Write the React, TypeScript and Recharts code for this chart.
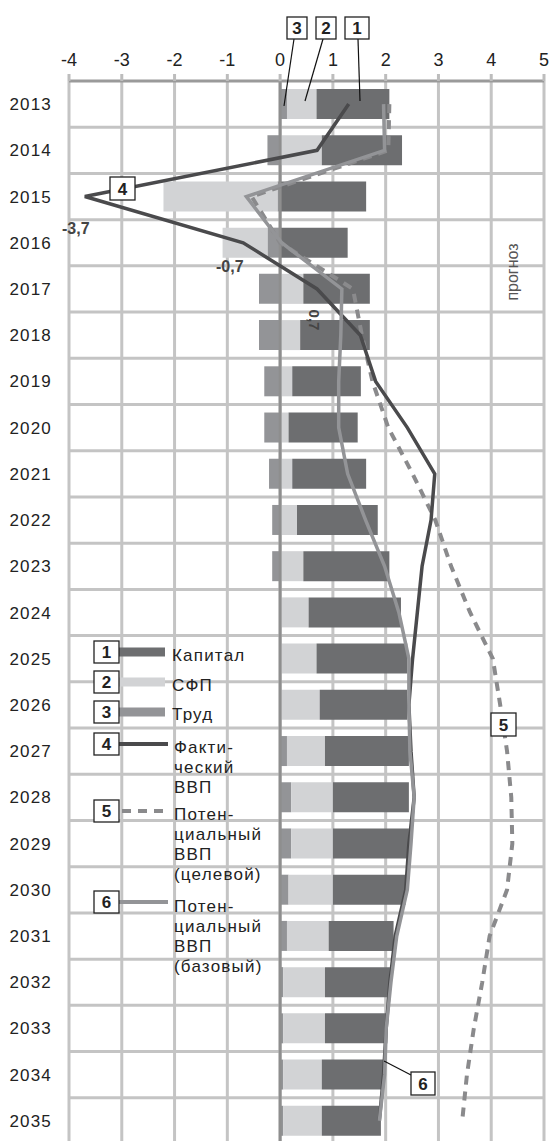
import React from "react";
import {
  ComposedChart,
  Bar,
  Line,
  XAxis,
  YAxis,
  CartesianGrid,
  ReferenceLine,
} from "recharts";

const years = [
  "2013", "2014", "2015", "2016", "2017", "2018", "2019", "2020",
  "2021", "2022", "2023", "2024", "2025", "2026", "2027", "2028",
  "2029", "2030", "2031", "2032", "2033", "2034", "2035",
];

// вклад факторов, п.п.
const labour = [
  0.13, -0.24, -0.05, -0.24, -0.4, -0.4, -0.3, -0.3, -0.21, -0.15, -0.15, 0.02,
  0.02, 0.02, 0.13, 0.21, 0.21, 0.16, 0.13, 0.06, 0.06, 0.06, 0.06,
];
const tfp = [
  0.56, 0.79, -2.16, -0.85, 0.44, 0.38, 0.23, 0.16, 0.23, 0.32, 0.44, 0.52,
  0.67, 0.73, 0.72, 0.79, 0.79, 0.84, 0.79, 0.79, 0.79, 0.73, 0.73,
];
const capital = [
  1.38, 1.52, 1.63, 1.28, 1.26, 1.32, 1.3, 1.31, 1.4, 1.53, 1.63, 1.75,
  1.72, 1.66, 1.59, 1.44, 1.44, 1.38, 1.23, 1.23, 1.18, 1.16, 1.12,
];

// темпы роста ВВП, %
const actualGdp = [
  1.3, 0.7, -3.7, -0.7, 0.7, 1.52, 1.81, 2.41, 2.93, 2.86, 2.69, 2.6,
  2.51, 2.44, 2.48, 2.54, 2.44, 2.38, 2.18, 2.08, 2.01, 1.96, 1.88,
];
const targetGdp = [
  2.07, 2.05, -0.54, 0.0, 1.38, 1.55, 1.75, 2.05, 2.51, 2.94, 3.24, 3.6,
  4.03, 4.17, 4.3, 4.38, 4.4, 4.3, 3.97, 3.83, 3.67, 3.54, 3.45,
];
const baseGdp = [
  1.96, 1.98, -0.64, 0.03, 1.17, 1.15, 1.11, 1.11, 1.28, 1.62, 1.98, 2.25,
  2.44, 2.44, 2.46, 2.54, 2.48, 2.41, 2.21, 2.1, 2.01, 1.98, 1.88,
];

const xTicks = [-4, -3, -2, -1, 0, 1, 2, 3, 4, 5];

const data = years.map((year, i) => ({
  year,
  labour: labour[i],
  tfp: tfp[i],
  capital: capital[i],
  actual: actualGdp[i],
  target: targetGdp[i],
  base: baseGdp[i],
}));

const FONT = "'Liberation Sans', Arial, sans-serif";
const DARK = "#6d6e70";
const LIGHT = "#d2d3d5";
const MID = "#939497";
const LINE_DARK = "#4a4a4c";
const DASH = "#8a8a8c";

function NumBox({ x, y, n, w = 24, h = 23 }: { x: number; y: number; n: string; w?: number; h?: number }) {
  return (
    <g>
      <rect x={x} y={y} width={w} height={h} fill="#fff" stroke="#222" strokeWidth={1.3} />
      <text
        x={x + w / 2}
        y={y + h / 2 + 6}
        textAnchor="middle"
        fontSize={17}
        fontWeight="bold"
        fill="#222"
      >
        {n}
      </text>
    </g>
  );
}

function Annotations() {
  const tx = { fontSize: 17, fill: "#222", letterSpacing: 1.2 };
  return (
    <svg
      width={551}
      height={1141}
      style={{ position: "absolute", left: 0, top: 0, pointerEvents: "none", fontFamily: FONT }}
    >
      {/* leaders to 2013 bar */}
      <line x1={294} y1={39} x2={284} y2={106} stroke="#111" strokeWidth={1.2} />
      <line x1={323} y1={39} x2={305} y2={101} stroke="#111" strokeWidth={1.2} />
      <line x1={358} y1={39} x2={360} y2={101} stroke="#111" strokeWidth={1.2} />
      <NumBox x={287} y={17} n="3" w={20} h={22} />
      <NumBox x={316} y={17} n="2" w={20} h={22} />
      <NumBox x={345} y={17} n="1" w={24} h={22} />

      <NumBox x={110} y={177} n="4" w={25} h={23} />
      <text x={62} y={234} fontSize={16} fontWeight="bold" fill="#444">-3,7</text>
      <text x={216} y={272} fontSize={16} fontWeight="bold" fill="#444">-0,7</text>
      <text
        x={309}
        y={320}
        fontSize={15}
        fontWeight="bold"
        fill="#444"
        textAnchor="middle"
        transform="rotate(90 309 320)"
      >
        0,7
      </text>
      <text
        x={518}
        y={272}
        fontSize={16}
        fill="#555"
        textAnchor="middle"
        transform="rotate(-90 518 272)"
      >
        прогноз
      </text>

      <NumBox x={491} y={713} n="5" w={25} h={23} />
      <line x1={384} y1={1061} x2={411} y2={1075} stroke="#111" strokeWidth={1.2} />
      <NumBox x={411} y={1072} n="6" w={24} h={23} />

      {/* legend */}
      <line x1={119} y1={652} x2={165} y2={652} stroke={DARK} strokeWidth={9} />
      <NumBox x={94} y={641} n="1" w={25} h={22} />
      <text x={172} y={661} {...tx}>Капитал</text>

      <line x1={119} y1={682} x2={165} y2={682} stroke={LIGHT} strokeWidth={9} />
      <NumBox x={94} y={671} n="2" w={25} h={22} />
      <text x={172} y={691} {...tx}>СФП</text>

      <line x1={119} y1={712} x2={165} y2={712} stroke={MID} strokeWidth={9} />
      <NumBox x={94} y={701} n="3" w={25} h={22} />
      <text x={172} y={720} {...tx}>Труд</text>

      <line x1={119} y1={744} x2={168} y2={744} stroke={LINE_DARK} strokeWidth={4} />
      <NumBox x={94} y={733} n="4" w={25} h={22} />
      <text x={174} y={753} {...tx}>Факти-</text>
      <text x={174} y={773} {...tx}>ческий</text>
      <text x={174} y={793} {...tx}>ВВП</text>

      <line x1={122} y1={811} x2={166} y2={811} stroke={DASH} strokeWidth={4} strokeDasharray="9 7" />
      <NumBox x={94} y={800} n="5" w={25} h={22} />
      <text x={174} y={820} {...tx}>Потен-</text>
      <text x={174} y={840} {...tx}>циальный</text>
      <text x={174} y={860} {...tx}>ВВП</text>
      <text x={174} y={880} {...tx}>(целевой)</text>

      <line x1={119} y1={902} x2={168} y2={902} stroke={MID} strokeWidth={4} />
      <NumBox x={94} y={891} n="6" w={25} h={22} />
      <text x={174} y={912} {...tx}>Потен-</text>
      <text x={174} y={932} {...tx}>циальный</text>
      <text x={174} y={952} {...tx}>ВВП</text>
      <text x={174} y={972} {...tx}>(базовый)</text>
    </svg>
  );
}

export default function App() {
  const rowLines = ({ offset }: any) => {
    const band = offset.height / years.length;
    const out: number[] = [];
    for (let k = 1; k < years.length; k++) out.push(offset.top + k * band);
    return out;
  };

  return (
    <div
      style={{
        position: "absolute",
        left: 0,
        top: 0,
        width: 551,
        height: 1141,
        overflow: "hidden",
        background: "#fff",
        fontFamily: FONT,
      }}
    >
      <ComposedChart
        width={551}
        height={1147}
        data={data}
        layout="vertical"
        stackOffset="sign"
        margin={{ top: 0, right: 7, bottom: 3, left: 0 }}
      >
        <CartesianGrid
          stroke="#c4c4c4"
          strokeWidth={3}
          horizontalCoordinatesGenerator={rowLines}
        />
        <XAxis
          type="number"
          orientation="top"
          domain={[-4, 5]}
          ticks={xTicks}
          height={81}
          interval={0}
          axisLine={{ stroke: "#9a9a9a", strokeWidth: 3 }}
          tickLine={{ stroke: "#bdbdbd", strokeWidth: 3 }}
          tickSize={7}
          tickMargin={8}
          tick={{ fontSize: 18, fill: "#222", fontFamily: FONT }}
        />
        <YAxis
          type="category"
          dataKey="year"
          width={69}
          axisLine={false}
          tickLine={false}
          tickMargin={11}
          interval={0}
          tick={{ fontSize: 17, fill: "#222", fontFamily: FONT, letterSpacing: 1.2 }}
        />
        <ReferenceLine x={0} stroke="#8e8e8e" strokeWidth={3} />
        <Bar dataKey="labour" stackId="f" fill={MID} barSize={30} isAnimationActive={false} />
        <Bar dataKey="tfp" stackId="f" fill={LIGHT} barSize={30} isAnimationActive={false} />
        <Bar dataKey="capital" stackId="f" fill={DARK} barSize={30} isAnimationActive={false} />
        <Line
          dataKey="target"
          type="linear"
          stroke={DASH}
          strokeWidth={4}
          strokeDasharray="9 7"
          dot={false}
          isAnimationActive={false}
        />
        <Line
          dataKey="actual"
          type="linear"
          stroke={LINE_DARK}
          strokeWidth={3.5}
          dot={false}
          isAnimationActive={false}
        />
        <Line
          dataKey="base"
          type="linear"
          stroke={MID}
          strokeWidth={3.5}
          dot={false}
          isAnimationActive={false}
        />
      </ComposedChart>
      <Annotations />
    </div>
  );
}
